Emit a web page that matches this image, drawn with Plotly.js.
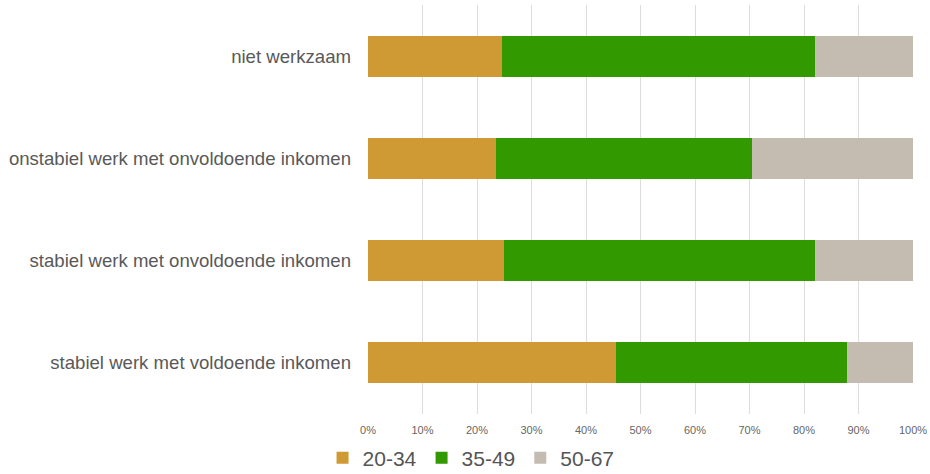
<!DOCTYPE html>
<html>
<head>
<meta charset="utf-8">
<script src="https://cdn.plot.ly/plotly-3.0.1.min.js"></script>
<style>html,body{margin:0;padding:0;background:#fff;}#chart{width:930px;height:474px;}</style>
</head>
<body>
<div id="chart"></div>
<script>
var categories = ["niet werkzaam", "onstabiel werk met onvoldoende inkomen", "stabiel werk met onvoldoende inkomen", "stabiel werk met voldoende inkomen"];
var seriesNames = ["20-34", "35-49", "50-67"];
var age20_34 = [24.5, 23.5, 25.0, 45.5];
var age35_49 = [57.6, 47.0, 57.1, 42.4];
var age50_67 = [17.9, 29.5, 17.9, 12.1];
var xTickVals = [0, 10, 20, 30, 40, 50, 60, 70, 80, 90, 100];
var xTickText = ["0%", "10%", "20%", "30%", "40%", "50%", "60%", "70%", "80%", "90%", "100%"];

var colors = ["#CF9934", "#339900", "#C4BBB1"];
var values = [age20_34, age35_49, age50_67];
var FONT = "Arial, 'Liberation Sans', sans-serif";

var traces = seriesNames.map(function (name, i) {
  return {
    type: "bar",
    orientation: "h",
    name: name,
    y: categories,
    x: values[i],
    marker: { color: colors[i], line: { width: 0 } },
    hoverinfo: "skip"
  };
});

var layout = {
  width: 930,
  height: 474,
  margin: { l: 368, r: 17, t: 5, b: 60, autoexpand: false },
  paper_bgcolor: "#fff",
  plot_bgcolor: "#fff",
  barmode: "stack",
  bargap: 0.6,
  font: { family: FONT, color: "#555" },
  xaxis: {
    range: [0, 100],
    tickmode: "array",
    tickvals: xTickVals,
    ticktext: xTickText,
    showgrid: true,
    gridcolor: "#DDDDDD",
    gridwidth: 1,
    zeroline: false,
    showline: false,
    ticks: "",
    ticklabelstandoff: 8,
    automargin: false,
    tickfont: { family: FONT, size: 11, color: "#666" },
    fixedrange: true
  },
  yaxis: {
    categoryorder: "array",
    categoryarray: categories,
    autorange: "reversed",
    showgrid: false,
    zeroline: false,
    showline: false,
    ticks: "",
    ticklabelstandoff: 16,
    automargin: false,
    tickfont: { family: FONT, size: 18.6, color: "#595959" },
    fixedrange: true
  },
  legend: {
    orientation: "h",
    x: 0.5065,
    xref: "container",
    y: 0.0338,
    yref: "container",
    xanchor: "center",
    yanchor: "middle",
    font: { family: FONT, size: 21, color: "#555" },
    itemwidth: 30,
    traceorder: "normal",
    bgcolor: "rgba(0,0,0,0)"
  },
  showlegend: true
};

Plotly.newPlot("chart", traces, layout, { displayModeBar: false, staticPlot: true });
</script>
</body>
</html>
